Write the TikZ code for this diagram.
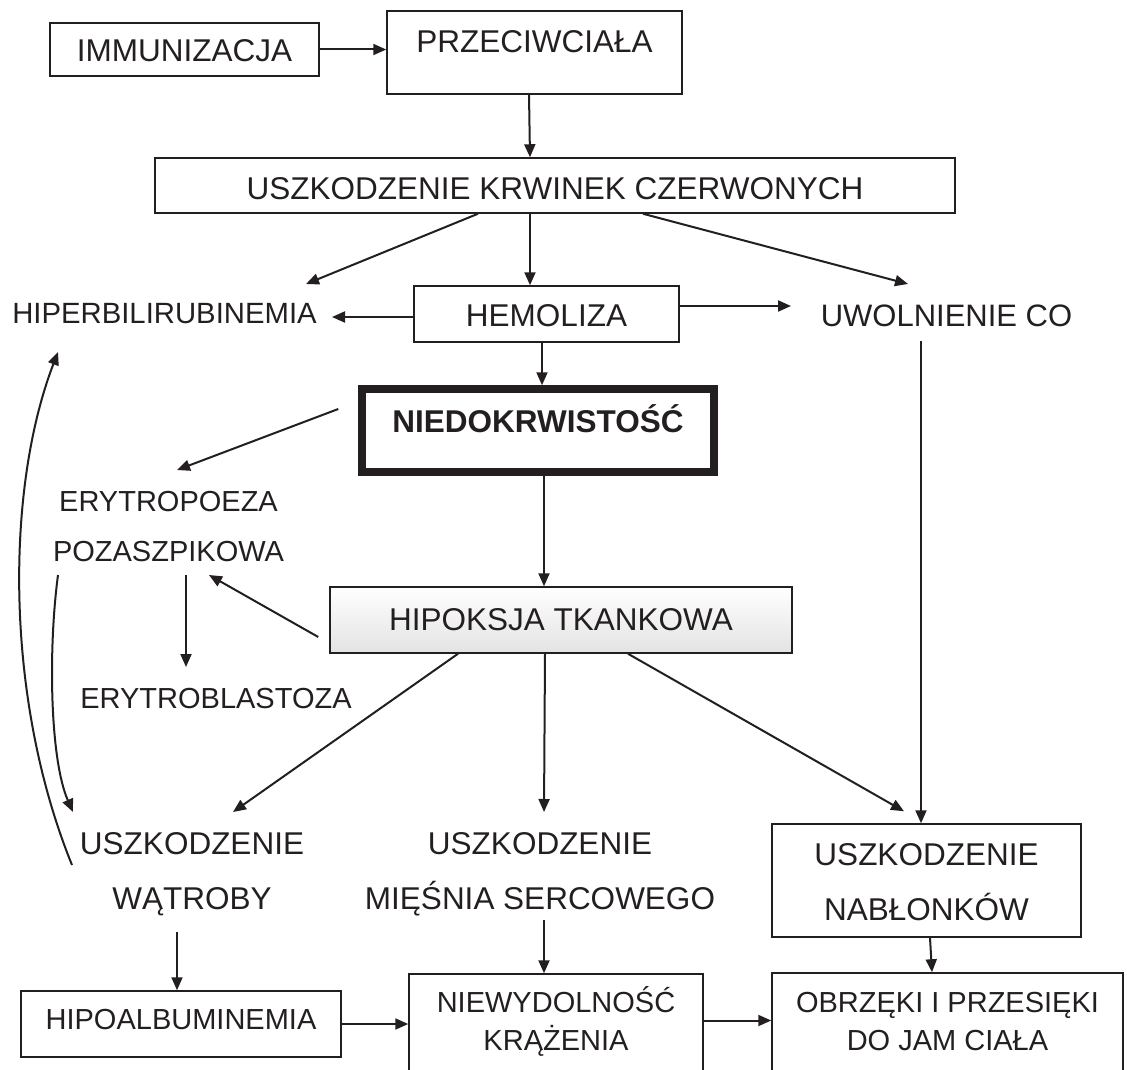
\documentclass[tikz,border=0pt]{standalone}
\usepackage{fontspec}
\setmainfont{Liberation Sans}
\usetikzlibrary{arrows.meta,calc}
\definecolor{ink}{HTML}{231F20}
\newcommand{\mytwol}[2]{\begin{tabular}[t]{@{}c@{}}#1\\#2\end{tabular}}
\begin{document}
\begin{tikzpicture}[x=1pt,y=-1pt,
  every node/.style={inner sep=0pt, text=ink, anchor=base},
  box/.style={draw=ink, line width=1.5pt, rectangle},
  arr/.style={draw=ink, line width=2pt, -{Triangle[length=13pt,width=11pt]}},
  fA/.style={font=\fontsize{31.5}{55}\selectfont},
  fB/.style={font=\fontsize{29}{38}\selectfont},
  fC/.style={font=\fontsize{29}{50}\selectfont},
]
\useasboundingbox (0,0) rectangle (1127,1070);
\clip (0,0) rectangle (1127,1070);

% boxes
\node[box,fA,minimum width=269pt,text height=39pt,text depth=14pt] (immun) at (184.5,62) {IMMUNIZACJA};
\node[box,fA,minimum width=295pt,text height=42pt,text depth=41pt] (przec) at (534.5,53) {PRZECIWCIAŁA};
\node[box,fA,minimum width=800pt,text height=41pt,text depth=14pt] (krw) at (555,199) {USZKODZENIE KRWINEK CZERWONYCH};
\node[box,fA,minimum width=265pt,text height=40pt,text depth=16pt] (hemo) at (546.5,326) {HEMOLIZA};
\node[font=\fontsize{29.3}{35}\selectfont] (hyper) at (164.5,323) {HIPERBILIRUBINEMIA};
\node[font=\fontsize{31}{40}\selectfont] (uwol) at (946.5,326) {UWOLNIENIE CO};
\node[box,line width=7.5pt,font={\fontsize{31.5}{40}\selectfont\bfseries},minimum width=352pt,text height=43pt,text depth=40pt] (niedo) at (538,432) {NIEDOKRWISTOŚĆ};
\node[box,top color=white,bottom color=black!11,fA,minimum width=462pt,text height=43pt,text depth=23pt] (hipok) at (561,630) {HIPOKSJA TKANKOWA};
\node[fC] (eryt) at (168.5,511) {\mytwol{ERYTROPOEZA}{POZASZPIKOWA}};
\node[fB] (erbl) at (216,708) {ERYTROBLASTOZA};
\node[fA] (watr) at (192,854) {\mytwol{USZKODZENIE}{WĄTROBY}};
\node[fA] (miesn) at (540,854) {\mytwol{USZKODZENIE}{MIĘŚNIA SERCOWEGO}};
\node[box,fA,minimum width=309pt,text height=41pt,text depth=72pt] (nablon) at (926.5,865) {\mytwol{USZKODZENIE}{NABŁONKÓW}};
\node[box,fB,minimum width=320pt,text height=38pt,text depth=28pt] (hipoal) at (181,1029) {HIPOALBUMINEMIA};
\node[box,fB,minimum width=294pt,text height=38pt,text depth=75pt] (niewyd) at (556,1012) {\mytwol{NIEWYDOLNOŚĆ}{KRĄŻENIA}};
\node[box,fB,minimum width=351pt,text height=39pt,text depth=75pt] (obrz) at (947.5,1012) {\mytwol{OBRZĘKI I PRZESIĘKI}{DO JAM CIAŁA}};

% connectors
\draw[arr] (immun.east) -- (immun.east -| przec.west);
\draw[arr] ($(przec.south)+(-5.5,0)$) -- ($(krw.north)+(-25,0)$);
\draw[arr] ($(krw.south)+(-77,0)$) -- ($(hyper.base)+(141.5,-39)$);
\draw[arr] ($(krw.south)+(-25,0)$) -- ($(hemo.north)+(-16.5,0)$);
\draw[arr] ($(krw.south)+(88,0)$) -- ($(uwol.base)+(-38.5,-42)$);
\draw[arr] ($(hemo.west)+(0,3)$) -- ($(hyper.base)+(167.5,-6)$);
\draw[arr] ($(hemo.east)+(0,-8)$) -- ($(uwol.base)+(-155.5,-20)$);
\draw[arr] ($(hemo.south)+(-4.5,0)$) -- ($(niedo.north)+(4,0)$);
\draw[arr] ($(niedo.south)+(6,0)$) -- ($(hipok.north)+(-17,0)$);
\draw[arr] ($(niedo.west)+(-20,-21.5)$) -- ($(eryt.base)+(8.5,-41)$);
\draw[arr] ($(hipok.west)+(-11,17)$) -- ($(eryt.base)+(40.5,64)$);
\draw[arr] ($(eryt.base)+(17.5,64)$) -- ($(erbl.base)+(-30,-41)$);
\draw[arr] ($(hipok.south)+(-103,0)$) -- ($(watr.base)+(41,-42)$);
\draw[arr] ($(hipok.south)+(-16,0)$) -- ($(miesn.base)+(4,-42)$);
\draw[arr] ($(hipok.south)+(67,0)$) -- ($(nablon.north)+(-22.5,-12)$);
\draw[arr] ($(uwol.base)+(-25.5,15)$) -- ($(nablon.north)+(-5.5,0)$);
\draw[arr] ($(watr.base)+(-15,78)$) -- ($(hipoal.north)+(-4,0)$);
\draw[arr] ($(miesn.base)+(4,66)$) -- ($(niewyd.north)+(-12,0)$);
\draw[arr] (hipoal.east) -- (hipoal.east -| niewyd.west);
\draw[arr] ($(niewyd.east)+(0,-10)$) -- ($(obrz.west)+(0,-9.5)$);
\draw[arr] ($(nablon.south)+(3.5,0)$) -- ($(obrz.north)+(-15.5,0)$);
\draw[arr] ($(watr.base)+(-120,11)$) .. controls (5,700) and (5,490) .. ($(hyper.base)+(-106.5,29)$);
\draw[arr] ($(eryt.base)+(-110.5,64)$) .. controls (48,650) and (50,760) .. ($(watr.base)+(-119,-42)$);
\end{tikzpicture}
\end{document}
